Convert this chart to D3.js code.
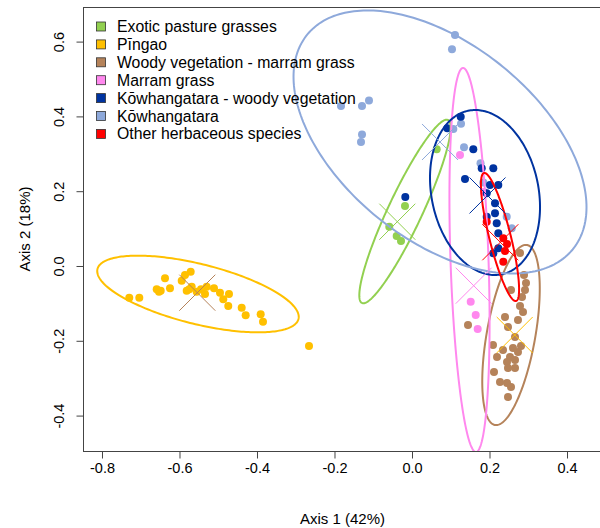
<!DOCTYPE html>
<html>
<head>
<meta charset="utf-8">
<script src="https://cdn.jsdelivr.net/npm/d3@7"></script>
<style>
  html, body { margin: 0; padding: 0; background: #fff; }
  svg { display: block; font-family: "Liberation Sans", Arial, sans-serif; }
</style>
</head>
<body>
<svg id="chart" width="600" height="528"></svg>
<script>
// ---------------- data ----------------
const groups = ["Exotic pasture grasses", "Pīngao", "Woody vegetation - marram grass", "Marram grass",
  "Kōwhangatara - woody vegetation", "Kōwhangatara", "Other herbaceous species"];
const colors = ["#92D050", "#FFC000", "#B5835A", "#FF88EE", "#0033A0", "#8EA9DB", "#FF0000"];

const xTicks = [-0.8, -0.6, -0.4, -0.2, 0.0, 0.2, 0.4];
const yTicks = [-0.4, -0.2, 0.0, 0.2, 0.4, 0.6];
const xTitle = "Axis 1 (42%)";
const yTitle = "Axis 2 (18%)";

// site scores per group [axis1, axis2]
const exoticPts = [[0.0637, 0.3120], [-0.0181, 0.1604], [-0.0586, 0.1051], [-0.0395, 0.0802], [-0.0284, 0.0668]];
const pingaoPts = [[-0.7296, -0.0848], [-0.7037, -0.0848], [-0.6588, -0.0623], [-0.6485, -0.0660], [-0.6529, -0.0687],
  [-0.6374, -0.0329], [-0.6245, -0.0596], [-0.5943, -0.0393], [-0.5858, -0.0241], [-0.5711, -0.0152],
  [-0.5814, -0.0660], [-0.5747, -0.0623], [-0.5685, -0.0553], [-0.5556, -0.0687], [-0.5445, -0.0623],
  [-0.5342, -0.0749], [-0.5298, -0.0553], [-0.5110, -0.0596], [-0.4955, -0.0714], [-0.4870, -0.0890],
  [-0.4723, -0.0749], [-0.4741, -0.1070], [-0.4395, -0.1115], [-0.4292, -0.1318], [-0.3905, -0.1291],
  [-0.3845, -0.1489], [-0.2658, -0.2139]];
const woodyMarramPts = [[0.2787, 0.0348], [0.2890, -0.0241], [0.2942, -0.0455], [0.2555, -0.0642], [0.2839, -0.0829],
  [0.2787, -0.1070], [0.2865, -0.1230], [0.2400, -0.1364], [0.2735, -0.1444], [0.2477, -0.1631],
  [0.2658, -0.1898], [0.1445, -0.1578], [0.2090, -0.2112], [0.2813, -0.2139], [0.2735, -0.2299],
  [0.2194, -0.2433], [0.2529, -0.2433], [0.2452, -0.2567], [0.2658, -0.2513], [0.2477, -0.2727],
  [0.2658, -0.2727], [0.2116, -0.2834], [0.2271, -0.3102], [0.2452, -0.3128], [0.2555, -0.3235],
  [0.2477, -0.3503], [0.2916, -0.0642], [0.2606, -0.2193], [0.2348, -0.2246]];
const marramPts = [[0.1239, 0.2968], [0.1858, 0.1979], [0.1515, -0.0955], [0.1644, -0.1310], [0.1695, -0.1684]];
const kowWoodyPts = [[0.1257, 0.3992], [0.0911, 0.3682], [0.1582, 0.3120], [0.1368, 0.2326], [-0.0173, 0.1845],
  [0.1799, 0.2612], [0.2098, 0.2612], [0.2013, 0.2166], [0.2227, 0.2166], [0.1928, 0.1944],
  [0.2142, 0.1676], [0.2142, 0.1409], [0.1928, 0.1318], [0.2186, 0.1142], [0.2227, 0.0874],
  [0.2227, 0.0473], [0.2098, 0.0340]];
const kowPts = [[-0.1832, 0.4278], [-0.1290, 0.4278], [-0.1110, 0.4425], [-0.1290, 0.3516], [-0.1316, 0.3316],
  [0.1110, 0.6176], [0.1032, 0.5794], [0.1066, 0.3663], [0.1265, 0.3805], [0.1342, 0.3174],
  [0.1768, 0.2746], [0.1840, 0.2233], [0.2444, 0.1318], [0.2573, 0.1008]];
const otherHerbPts = [[0.1928, 0.1184], [0.2356, 0.0741], [0.2452, 0.0588], [0.2400, 0.0401], [0.2356, 0.0115]];

const groupPoints = [exoticPts, pingaoPts, woodyMarramPts, marramPts, kowWoodyPts, kowPts, otherHerbPts];
const drawOrder = [5, 3, 0, 1, 2, 4, 6];

// group ellipses: centre and covariance (axis units), in group order
const ellCX  = [-0.0181, -0.5523, 0.2555, 0.1484, 0.1884, 0.0723, 0.2271];
const ellCY  = [0.1457, -0.0749, -0.1845, 0.0160, 0.1965, 0.3316, 0.0775];
const ellVXX = [0.01389, 0.06761, 0.005508, 0.002684, 0.02015, 0.1429, 0.002424];
const ellVXY = [0.02638, -0.01589, 0.009232, -0.008529, -0.00552, -0.0659, -0.006879];
const ellVYY = [0.06023, 0.01052, 0.05804, 0.2636, 0.04866, 0.1237, 0.02933];

// centroid crosses: position and colour index
const crossX = [-0.0379, -0.5540, 0.2650, 0.1592, 0.1948, 0.0723, 0.2279];
const crossY = [0.1184, -0.0714, -0.1845, -0.0527, 0.1885, 0.3316, 0.0634];
const crossColor = [0, 2, 1, 3, 4, 5, 6];

// ---------------- drawing ----------------
const svg = d3.select("#chart");
const plot = { left: 83, right: 602, top: 7, bottom: 451 };

const x = d3.scaleLinear().domain([-0.849, 0.4903]).range([plot.left, plot.right]);
const y = d3.scaleLinear().domain([-0.4947, 0.6925]).range([plot.bottom, plot.top]);

svg.append("rect").attr("width", 600).attr("height", 528).attr("fill", "#fff");

svg.append("clipPath").attr("id", "clip")
  .append("rect")
  .attr("x", plot.left).attr("y", plot.top)
  .attr("width", plot.right - plot.left).attr("height", plot.bottom - plot.top);

const g = svg.append("g").attr("clip-path", "url(#clip)");

// points
drawOrder.forEach(gi => {
  g.append("g").selectAll("circle")
    .data(groupPoints[gi])
    .join("circle")
    .attr("cx", d => x(d[0]))
    .attr("cy", d => y(d[1]))
    .attr("r", 4)
    .attr("fill", colors[gi]);
});

// ellipses
const line = d3.line().x(d => x(d[0])).y(d => y(d[1])).curve(d3.curveLinearClosed);
groups.forEach((name, i) => {
  const l11 = Math.sqrt(ellVXX[i]);
  const l21 = ellVXY[i] / l11;
  const l22 = Math.sqrt(ellVYY[i] - l21 * l21);
  const pts = d3.range(0, 240).map(k => {
    const t = (k / 240) * 2 * Math.PI;
    return [ellCX[i] + l11 * Math.cos(t), ellCY[i] + l21 * Math.cos(t) + l22 * Math.sin(t)];
  });
  g.append("path").attr("d", line(pts))
    .attr("fill", "none").attr("stroke", colors[i]).attr("stroke-width", 2);
});

// crosses
crossX.forEach((cxv, i) => {
  const px = x(cxv), py = y(crossY[i]), s = 18;
  g.append("path")
    .attr("d", `M${px - s},${py - s}L${px + s},${py + s}M${px - s},${py + s}L${px + s},${py - s}`)
    .attr("stroke", colors[crossColor[i]]).attr("stroke-width", 1).attr("fill", "none");
});

// frame
svg.append("rect")
  .attr("x", plot.left + 0.5).attr("y", plot.top + 0.5)
  .attr("width", plot.right - plot.left).attr("height", plot.bottom - plot.top)
  .attr("fill", "none").attr("stroke", "#444").attr("stroke-width", 1);

// axes
const xAxis = d3.axisBottom(x).tickValues(xTicks).tickSize(7).tickPadding(4)
  .tickFormat(d3.format(".1f"));
const gx = svg.append("g").attr("transform", `translate(0,${plot.bottom + 0.5})`).call(xAxis);
gx.select(".domain").attr("stroke", "#444")
  .attr("d", `M${x(-0.8)},0H${x(0.4)}`);
gx.selectAll(".tick line").attr("stroke", "#444");
gx.selectAll(".tick text").attr("font-size", 14.5).attr("fill", "#000")
  .attr("font-family", "Liberation Sans, Arial, sans-serif")
  .text(d => d3.format(".1f")(d).replace("−", "-"));

const yAxis = d3.axisLeft(y).tickValues(yTicks).tickSize(7).tickFormat(d3.format(".1f"));
const gy = svg.append("g").attr("transform", `translate(${plot.left + 0.5},0)`).call(yAxis);
gy.select(".domain").attr("stroke", "#444")
  .attr("d", `M0,${y(-0.4)}V${y(0.6)}`);
gy.selectAll(".tick line").attr("stroke", "#444");
gy.selectAll(".tick text")
  .attr("font-size", 14.5).attr("fill", "#000")
  .attr("font-family", "Liberation Sans, Arial, sans-serif")
  .attr("x", null).attr("dy", null)
  .attr("text-anchor", "middle")
  .attr("transform", "translate(-20,0) rotate(-90)")
  .text(d => d3.format(".1f")(d).replace("−", "-"));

svg.append("text")
  .attr("x", (plot.left + plot.right) / 2).attr("y", 524)
  .attr("text-anchor", "middle").attr("font-size", 15).text(xTitle);

svg.append("text")
  .attr("transform", `translate(30,${(plot.top + plot.bottom) / 2}) rotate(-90)`)
  .attr("text-anchor", "middle").attr("font-size", 15).text(yTitle);

// legend
const leg = svg.append("g");
groups.forEach((name, i) => {
  const cy = 26.5 + i * 17.9;
  leg.append("rect").attr("x", 96.5).attr("y", cy - 4.5).attr("width", 9).attr("height", 9)
    .attr("fill", colors[i]).attr("stroke", "#333").attr("stroke-width", 0.8);
  leg.append("text").attr("x", 117).attr("y", cy + 5.5)
    .attr("font-size", 15.8).attr("fill", "#000").text(name);
});
</script>
</body>
</html>
